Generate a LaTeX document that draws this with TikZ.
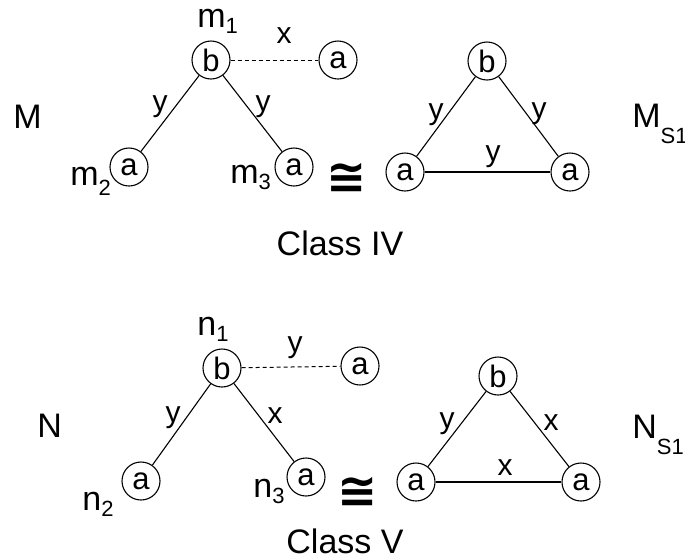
\documentclass[tikz,border=0pt]{standalone}
\usepackage{fontspec}
\setmainfont{Liberation Sans}
\newfontfamily\symfont{DejaVu Sans}
\usetikzlibrary{arrows, arrows.meta}
\tikzset{vertex/.style = {shape = circle, draw, minimum size = 19pt, inner sep = 0pt, line width = 0.55pt, font = \fontsize{15.5}{15.5}\selectfont}}
\tikzset{edge/.style = {-, line width = 0.55pt}}
\tikzset{link/.style = {-, dash pattern = on 2pt off 1.5pt, line width = 0.5pt}}
\tikzset{lbl/.style = {inner sep = 0pt, anchor = base, font = \fontsize{15}{15}\selectfont}}
\tikzset{tag/.style = {inner sep = 0pt, anchor = base west, font = \fontsize{17}{17}\selectfont}}
\tikzset{iso/.style = {inner sep = 0pt, font = \symfont\bfseries\fontsize{24}{24}\selectfont}}
\newcommand{\lowsub}[2][3pt]{\raisebox{-#1}{\fontsize{11}{11}\selectfont #2}}

\begin{document}
\begin{tikzpicture}[x = 0.5pt, y = -0.5pt]
	\useasboundingbox (0, 0) rectangle (685, 558);

	% class IV
	\node[vertex] (m1) at (211, 60) {b};
	\node[vertex] (m4) at (338, 60) {a};
	\node[vertex] (m2) at (129, 167) {a};
	\node[vertex] (m3) at (294, 167) {a};

	\draw[link] (m1) to (m4);
	\draw[edge] (m1) to (m2);
	\draw[edge] (m1) to (m3);

	\node[tag] (lm1) at (197, 27) {m\lowsub{1}};
	\node[tag] (lm2) at (70, 185) {m\lowsub[5pt]{2}};
	\node[tag] (lm3) at (230, 183) {m\lowsub{3}};
	\node[lbl] (e14) at (284, 43) {x};
	\node[lbl] (e12) at (160, 111) {y};
	\node[lbl] (e13) at (263, 111) {y};
	\node[tag] (lM) at (13, 128) {M};
	\node[iso] (iso1) at (347, 178) {≅};

	\node[vertex] (s1) at (487, 61) {b};
	\node[vertex] (s2) at (405, 172) {a};
	\node[vertex] (s3) at (570, 172) {a};

	\draw[edge] (s1) to (s2);
	\draw[edge] (s1) to (s3);
	\draw[edge] (s2) to (s3);

	\node[lbl] (f12) at (436, 119) {y};
	\node[lbl] (f13) at (539, 118) {y};
	\node[lbl] (f23) at (493, 161) {y};
	\node[tag] (lMs) at (632, 127) {M\lowsub[8pt]{S1}};
	\node[tag, anchor = base] (c4) at (340, 255) {Class IV};

	% class V
	\node[vertex] (n1) at (222, 368) {b};
	\node[vertex] (n4) at (360, 366) {a};
	\node[vertex] (n2) at (141, 481) {a};
	\node[vertex] (n3) at (306, 477) {a};

	\draw[link] (n1) to (n4);
	\draw[edge] (n1) to (n2);
	\draw[edge] (n1) to (n3);

	\node[tag] (ln1) at (197, 335) {n\lowsub{1}};
	\node[tag] (ln2) at (82, 510) {n\lowsub{2}};
	\node[tag] (ln3) at (253, 497) {n\lowsub{3}};
	\node[lbl] (g14) at (295, 352) {y};
	\node[lbl] (g12) at (173, 422) {y};
	\node[lbl] (g13) at (275, 423) {x};
	\node[tag] (lN) at (37, 437) {N};
	\node[iso] (iso2) at (358, 492) {≅};

	\node[vertex] (t1) at (498, 376) {b};
	\node[vertex] (t2) at (416, 482) {a};
	\node[vertex] (t3) at (581, 482) {a};

	\draw[edge] (t1) to (t2);
	\draw[edge] (t1) to (t3);
	\draw[edge] (t2) to (t3);

	\node[lbl] (h12) at (447, 428) {y};
	\node[lbl] (h13) at (551, 430) {x};
	\node[lbl] (h23) at (505, 475) {x};
	\node[tag] (lNs) at (632, 438) {N\lowsub[8pt]{S1}};
	\node[tag, anchor = base] (c5) at (345, 553) {Class V};
\end{tikzpicture}
\end{document}
